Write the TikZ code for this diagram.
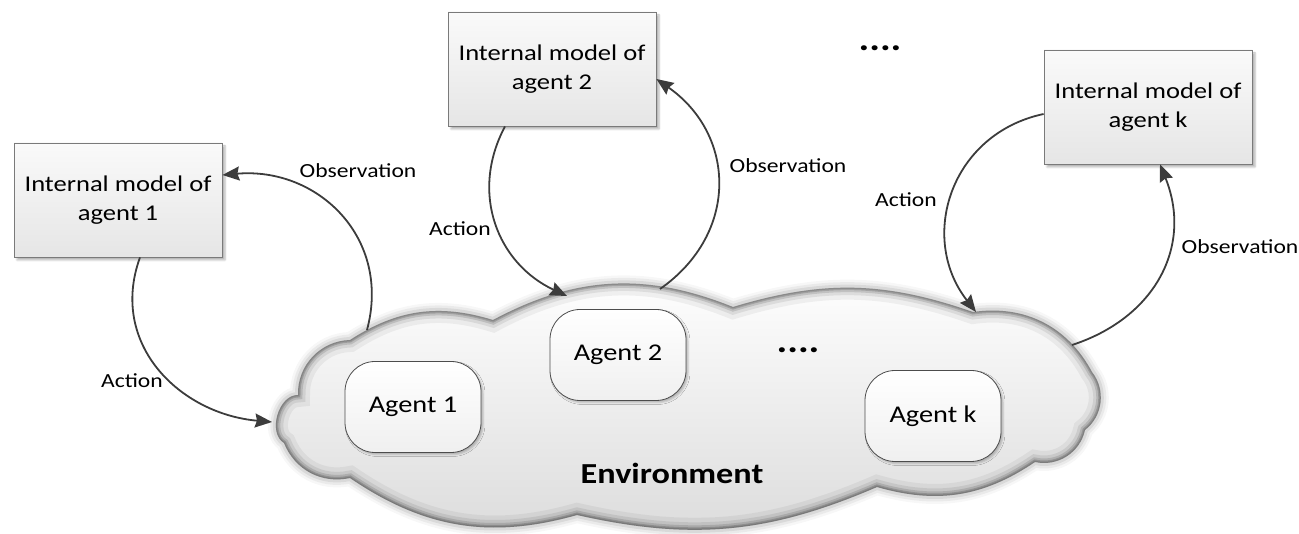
\documentclass[tikz,border=0pt]{standalone}
\usepackage{fontspec}
\setmainfont{Carlito}[FakeStretch=1.18]
\usetikzlibrary{positioning,arrows.meta,shadows.blur}

\definecolor{linegray}{HTML}{3C3C3C}
\definecolor{framegray}{HTML}{7A7A7A}

% outline of the environment cloud (bumps joined at cusps)
\newcommand{\envcloud}{(298,138) to[bend left=45] (350,193) to[bend left=25] (493,213)
  to[bend left=25] (733,226) to[bend left=18] (973,221) to[bend left=35] (1092,161)
  to[bend left=45] (1085,103) to[bend left=45] (1035,71) to[bend left=25] (877,46)
  to[bend left=18] (577,18) to[bend left=25] (350,55) to[bend left=40] (284,90)
  to[bend left=75] (298,138) -- cycle}

\begin{document}
\begin{tikzpicture}[x=1pt, y=1pt, model/.style={rectangle, draw=framegray, line width=0.8pt, top color=gray!4, bottom color=gray!20, minimum width=208pt, minimum height=114pt, align=center, font=\fontsize{22.5}{29}\selectfont, blur shadow={shadow xshift=3pt, shadow yshift=-3pt, shadow opacity=30, shadow blur steps=4}}, agent/.style={rectangle, rounded corners=30pt, draw=gray!60!black, line width=0.8pt, top color=white, bottom color=gray!12, minimum width=136pt, minimum height=91pt, font=\fontsize{24}{29}\selectfont, blur shadow={shadow xshift=2pt, shadow yshift=-2pt, shadow opacity=25, shadow blur steps=3}}, lbl/.style={font=\fontsize{20}{24}\selectfont}, dots/.style={font=\fontsize{34}{40}\selectfont\bfseries, inner sep=0pt}, flow/.style={-{Stealth[length=17pt, width=14pt, inset=2pt]}, line width=1.8pt, draw=linegray}]
      \useasboundingbox (0,0) rectangle (1299,533);

      % cloud: soft halo, shaded body, dark rim fading inwards
      \foreach \w/\o in {16/0.05, 11/0.08, 6/0.12}
        \draw[line width=\w pt, gray!70!black, opacity=\o] \envcloud;

      \shade[top color=white, bottom color=gray!28] \envcloud;

      \begin{scope}
        \clip \envcloud;
        \foreach \w/\o in {24/0.05, 15/0.08, 9/0.12, 5/0.16, 2.5/0.14}
          \draw[line width=\w pt, black, opacity=\o] \envcloud;
      \end{scope}

      \node [agent] (agent1) at (413,126) {Agent 1};

      \node [agent] (agent2) at (618,178) {Agent 2};

      \node [agent] (agentk) at (933,117) {Agent k};

      \node [dots] (moreenv) at (798,183) {....};

      \node [font=\fontsize{29}{34}\selectfont\bfseries] (env) at (672,60) {Environment};

      \node [model] (model1) at (118,333) {Internal model of\\agent 1};

      \node [model] (model2) at (552,464) {Internal model of\\agent 2};

      \node [model] (modelk) at (1148,426) {Internal model of\\agent k};

      \node [dots] (more) at (880,485) {....};

      % where the loops meet the cloud
      \coordinate (envA1) at (272,111);
      \coordinate (envO1) at (367,203);
      \coordinate (envA2) at (567,237);
      \coordinate (envO2) at (660,244);
      \coordinate (envAk) at (976,221);
      \coordinate (envOk) at (1072,188);

      \draw[flow] ([xshift=22pt]model1.south) to[out=-110, in=175, looseness=1.12] (envA1);

      \draw[flow] (envO1) to[out=75, in=5, looseness=1.15] ([yshift=25pt]model1.east);

      \draw[flow] ([xshift=-47pt]model2.south) to[out=-118, in=155, looseness=1.08] (envA2);

      \draw[flow] (envO2) to[out=35, in=-35, looseness=1.18] ([yshift=-10pt]model2.east);

      \draw[flow] ([yshift=-7pt]modelk.west) to[out=192, in=128, looseness=1.16] (envAk);

      \draw[flow] (envOk) to[out=18, in=-68, looseness=1.12] ([xshift=12pt]modelk.south);

      \node [lbl] (actlbl1) at (132,152) {Action};

      \node [lbl] (obslbl1) at (358,362) {Observation};

      \node [lbl] (actlbl2) at (460,304) {Action};

      \node [lbl] (obslbl2) at (788,367) {Observation};

      \node [lbl] (actlblk) at (906,333) {Action};

      \node [lbl] (obslblk) at (1240,286) {Observation};
    \end{tikzpicture}
\end{document}
